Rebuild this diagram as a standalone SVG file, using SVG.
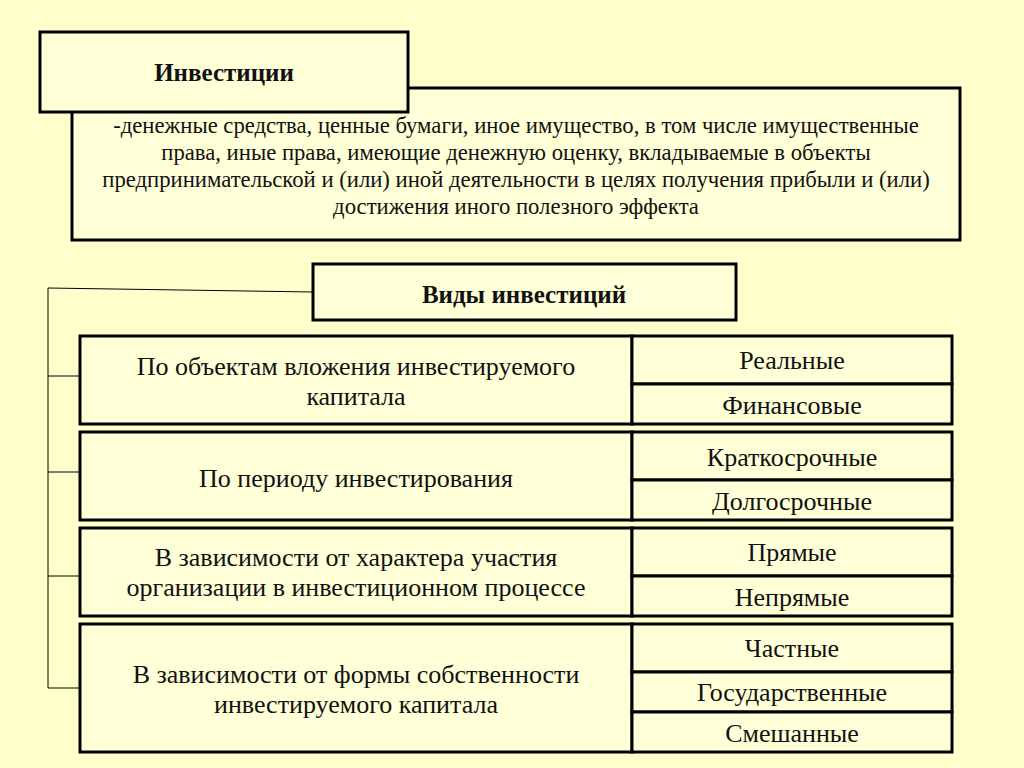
<svg xmlns="http://www.w3.org/2000/svg" width="1024" height="768" viewBox="0 0 1024 768">
<style>
.b{fill:#FFFFD8;stroke:#000;stroke-width:3}
.t{font-family:"Liberation Serif",serif;font-size:26px;fill:#111;text-anchor:middle}
.d{font-family:"Liberation Serif",serif;font-size:22.7px;fill:#111;text-anchor:middle}
.h{font-family:"Liberation Serif",serif;font-size:25px;font-weight:bold;fill:#111;text-anchor:middle}
.c{stroke:#000;stroke-width:1;fill:none}
</style>
<rect width="1024" height="768" fill="#FFFFCC"/>
<g id="connectors">
<polyline class="c" points="313,292 48,288 48,688"/>
<line class="c" x1="48" y1="376" x2="88" y2="376"/>
<line class="c" x1="48" y1="472" x2="80" y2="472"/>
<line class="c" x1="48" y1="576" x2="80" y2="576"/>
<line class="c" x1="48" y1="688" x2="80" y2="688"/>
</g>
<g id="definition">
<rect class="b" x="72" y="88" width="888" height="152"/>
<text class="d" x="516" y="133">-денежные средства, ценные бумаги, иное имущество, в том числе имущественные</text>
<text class="d" x="516" y="160">права, иные права, имеющие денежную оценку, вкладываемые в объекты</text>
<text class="d" x="516" y="187">предпринимательской и (или) иной деятельности в целях получения прибыли и (или)</text>
<text class="d" x="516" y="214">достижения иного полезного эффекта</text>
</g>
<g id="investicii"><rect class="b" x="40" y="32" width="368" height="80"/><text class="h" x="224" y="81">Инвестиции</text></g>
<g id="vidy"><rect class="b" x="313" y="264" width="423" height="56"/><text class="h" x="524" y="303">Виды инвестиций</text></g>
<g id="row1">
<rect class="b" x="80" y="336" width="552" height="88"/>
<text class="t" x="356" y="375">По объектам вложения инвестируемого</text>
<text class="t" x="356" y="405">капитала</text>
<rect class="b" x="632" y="336" width="320" height="48"/><text class="t" x="792" y="369">Реальные</text>
<rect class="b" x="632" y="384" width="320" height="40"/><text class="t" x="792" y="414">Финансовые</text>
</g>
<g id="row2">
<rect class="b" x="80" y="432" width="552" height="88"/>
<text class="t" x="356" y="487">По периоду инвестирования</text>
<rect class="b" x="632" y="432" width="320" height="48"/><text class="t" x="792" y="466">Краткосрочные</text>
<rect class="b" x="632" y="480" width="320" height="40"/><text class="t" x="792" y="510">Долгосрочные</text>
</g>
<g id="row3">
<rect class="b" x="80" y="528" width="552" height="88"/>
<text class="t" x="356" y="566">В зависимости от характера участия</text>
<text class="t" x="356" y="596">организации в инвестиционном процессе</text>
<rect class="b" x="632" y="528" width="320" height="48"/><text class="t" x="792" y="561">Прямые</text>
<rect class="b" x="632" y="576" width="320" height="40"/><text class="t" x="792" y="606">Непрямые</text>
</g>
<g id="row4">
<rect class="b" x="80" y="624" width="552" height="128"/>
<text class="t" x="356" y="683">В зависимости от формы собственности</text>
<text class="t" x="356" y="713">инвестируемого капитала</text>
<rect class="b" x="632" y="624" width="320" height="48"/><text class="t" x="792" y="657">Частные</text>
<rect class="b" x="632" y="672" width="320" height="40"/><text class="t" x="792" y="701">Государственные</text>
<rect class="b" x="632" y="712" width="320" height="40"/><text class="t" x="792" y="742">Смешанные</text>
</g>
</svg>
